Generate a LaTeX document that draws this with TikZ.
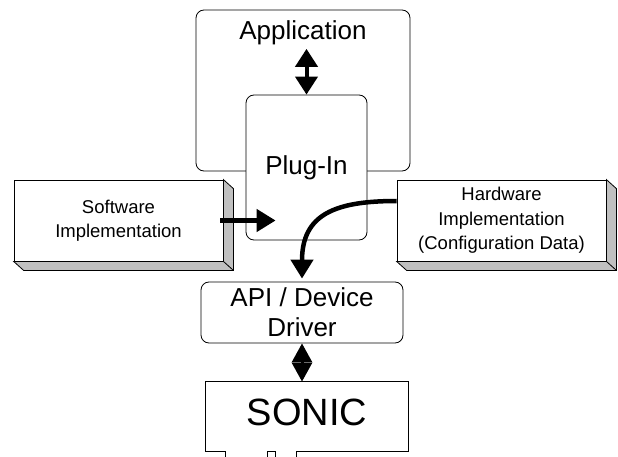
\documentclass[tikz,border=0pt]{standalone}
\usepackage{fontspec}
\setmainfont{Liberation Sans}
\usetikzlibrary{arrows.meta,positioning}
\definecolor{slabside}{RGB}{192,192,192}

\begin{document}
\begin{tikzpicture}[x=1pt,y=-1pt,on grid,line width=0.8pt,
    rbox/.style={draw,rounded corners=8pt,fill=white},
    slab/.style={draw,fill=white,minimum width=209pt,minimum height=81pt,align=center,font=\fontsize{18.5}{24.5}\selectfont},
    big/.style={font=\fontsize{26}{30}\selectfont,align=center},
    fat/.style={line width=4.5pt,-{Triangle[length=19pt,width=22pt]}},
    twoway/.style={line width=4pt,{Triangle[length=18pt,width=22pt]}-{Triangle[length=18pt,width=22pt]}},
    twowayshort/.style={line width=3pt,{Triangle[length=19pt,width=20pt]}-{Triangle[length=19pt,width=20pt]}}]
    \useasboundingbox (0,0) rectangle (618,457);
    % application with the plug-in sitting in it
    \node[rbox,minimum width=214pt,minimum height=161pt] (app) at (303,90.5) {};
    \node[big] (apptext) at (303,33) {Application};
    \node[rbox,big,minimum width=121pt,minimum height=145pt] (plugin) [below right=77pt and 3.5pt of app] {Plug-In};
    % the two implementations
    \node[slab] (sw) at (118.5,220.5) {Software\\Implementation};
    \node[slab] (hw) [right=383pt of sw] {Hardware\\Implementation\\(Configuration Data)};
    \foreach \b in {sw,hw}{
        \filldraw[fill=slabside] (\b.north east) -- ++(10,9) |- ([shift={(10,9)}]\b.south west) -- (\b.south west) -- (\b.south east) -- cycle;
        \draw (\b.south east) -- ++(10,9);
    }
    % driver and board
    \node[rbox,big,minimum width=202pt,minimum height=61pt] (api) at (302,312.5) {API / Device\\Driver};
    \node[font=\fontsize{38}{40}\selectfont,text depth=9pt,minimum width=202pt,minimum height=69pt] (sonic) [below right=104pt and 5pt of api] {SONIC};
    \draw ([shift={(91,6)}]sonic.south west) -- ++(0,-6) -- (sonic.south east) -- (sonic.north east)
        -- (sonic.north west) -- (sonic.south west) -- ++(20,0) -- ++(0,6);
    \draw ([shift={(62,6)}]sonic.south west) |- ++(8,-6) -- ++(0,6);
    % arrows
    \path (plugin.west |- sw.east) ++(30,0) coordinate (swin);
    \draw[twoway] (plugin.north |- apptext.south) -- (plugin.north);
    \draw[twowayshort] (api.south) -- (api.south |- sonic.north);
    \draw[fat] ([xshift=-3pt]sw.east) -- (swin);
    \draw[fat,shorten >=3pt] ([yshift=19.5pt]hw.west) .. controls +(-62,0) and +(0,-67) .. (api.north);
\end{tikzpicture}
\end{document}
